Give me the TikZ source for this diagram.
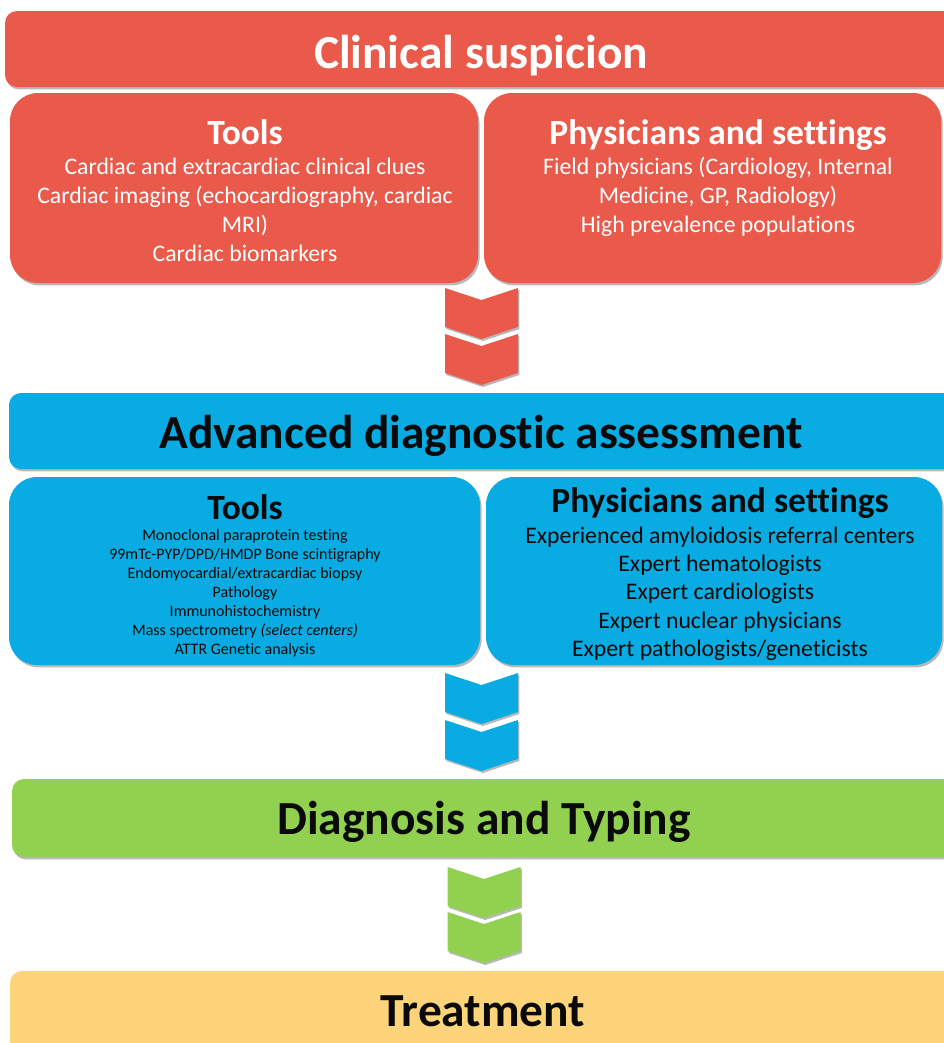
\documentclass[tikz,border=0pt]{standalone}
\usepackage{fontspec}
\setmainfont{Carlito}[Ligatures=NoCommon]
\usetikzlibrary{shadows}
\definecolor{cred}{RGB}{233,90,75}
\definecolor{cblue}{RGB}{8,172,227}
\definecolor{cgreen}{RGB}{146,208,80}
\definecolor{cyellow}{RGB}{253,212,122}
\definecolor{ink}{RGB}{10,10,10}

% a filled rounded panel given by its corners: name, x0, y0, x1, y1, colour, radius
\newcommand\panelbox[7]{%
  \node[panel=#7, fill=#6,
        minimum width={(#4-#2)*0.75pt}, minimum height={(#5-#3)*0.75pt}]
        (#1) at ({(#2+#4)/2},{(#3+#5)/2}) {};}

\begin{document}
\begin{tikzpicture}[x=0.75pt,y=-0.75pt,
  panel/.style={rectangle, rounded corners=#1, inner sep=0pt, outer sep=0pt, draw=none,
    drop shadow={shadow xshift=1.2pt, shadow yshift=-1.8pt, opacity=0.28, fill=black}},
  title/.style={anchor=base, inner sep=0pt, font=\fontsize{35.6}{38}\selectfont\bfseries},
  head/.style={anchor=base, inner sep=0pt, font=\fontsize{26.6}{29}\selectfont\bfseries},
  bodyL/.style={anchor=base, inner sep=0pt, font=\fontsize{17.8}{20}\selectfont},
  bodyS/.style={anchor=base, inner sep=0pt, font=\fontsize{12}{14}\selectfont},
  chevron/.pic={\path[pic actions,
      drop shadow={shadow xshift=1pt, shadow yshift=-1.5pt, opacity=0.28, fill=black}]
      (-36.5,0) -- (0,12) -- (36.5,0) -- (36.5,39) -- (0,51) -- (-36.5,39) -- cycle;}
]
\useasboundingbox (0,0) rectangle (944,1043);
\clip (0,0) rectangle (944,1043);

% ---------- stage 1: clinical suspicion ----------
\panelbox{cs}{5}{11}{975}{87}{cred}{9pt}
\node[title, white] (csT) at (481,68) {Clinical suspicion};

\panelbox{rtools}{10}{93}{478}{283}{cred}{21pt}
\node[head, white] (rtoolsH) at (245,144) {Tools};
\foreach \t [count=\i, evaluate=\i as \yy using 145+29*\i] in
  {Cardiac and extracardiac clinical clues,
   Cardiac imaging (echocardiography{,} cardiac,
   MRI),
   Cardiac biomarkers}
  \node[bodyL, white] (rtools\i) at (245,\yy) {\t};

\panelbox{rphys}{484}{93}{941}{283}{cred}{21pt}
\node[head, white] (rphysH) at (718,144) {Physicians and settings};
\foreach \t [count=\i, evaluate=\i as \yy using 145+29*\i] in
  {Field physicians (Cardiology{,} Internal,
   Medicine{,} GP{,} Radiology),
   High prevalence populations}
  \node[bodyL, white] (rphys\i) at (718,\yy) {\t};

\pic[fill=cred] (rc1) at (481.5,288) {chevron};
\pic[fill=cred] (rc2) at (481.5,334) {chevron};

% ---------- stage 2: advanced diagnostic assessment ----------
\panelbox{ada}{9}{393}{975}{469}{cblue}{9pt}
\node[title, ink] (adaT) at (481,448) {Advanced diagnostic assessment};

\panelbox{btools}{9}{477}{480}{665}{cblue}{21pt}
\node[head, ink] (btoolsH) at (245,519) {Tools};
\foreach \t [count=\i, evaluate=\i as \yy using 521+19*\i] in
  {Monoclonal paraprotein testing,
   99mTc-PYP/DPD/HMDP Bone scintigraphy,
   Endomyocardial/extracardiac biopsy,
   Pathology,
   Immunohistochemistry,
   Mass spectrometry \textit{(select centers)},
   ATTR Genetic analysis}
  \node[bodyS, ink] (btools\i) at (245,\yy) {\t};

\panelbox{bphys}{486}{477}{942}{665}{cblue}{21pt}
\node[head, ink] (bphysH) at (720,512) {Physicians and settings};
\foreach \t [count=\i, evaluate=\i as \yy using 515+28.25*\i] in
  {Experienced amyloidosis referral centers,
   Expert hematologists,
   Expert cardiologists,
   Expert nuclear physicians,
   Expert pathologists/geneticists}
  \node[bodyL, ink] (bphys\i) at (720,\yy) {\t};

\pic[fill=cblue] (bc1) at (481.5,673) {chevron};
\pic[fill=cblue] (bc2) at (481.5,720) {chevron};

% ---------- stage 3: diagnosis and typing ----------
\panelbox{dt}{12}{779}{975}{857}{cgreen}{9pt}
\node[title, ink] (dtT) at (484,834) {Diagnosis and Typing};

\pic[fill=cgreen] (gc1) at (484,867) {chevron};
\pic[fill=cgreen] (gc2) at (484,912) {chevron};

% ---------- stage 4: treatment ----------
\panelbox{tr}{10}{971}{975}{1070}{cyellow}{9pt}
\node[title, ink] (trT) at (483,1026) {Treatment};

\end{tikzpicture}
\end{document}
